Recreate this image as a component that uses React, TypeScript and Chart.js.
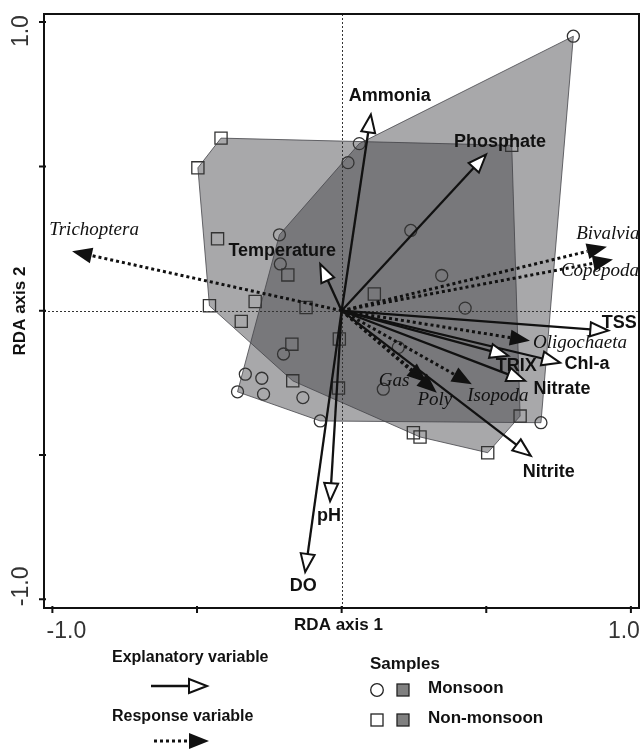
import React, { useEffect, useRef } from 'react';
import { Chart, registerables } from 'chart.js';

Chart.register(...registerables);

// ---- data ----
const monsoonX = [0.801, 0.061, 0.022, -0.215, -0.212, 0.239, 0.346, 0.427, 0.196, 0.144, -0.201, -0.333, -0.276, -0.36, -0.27, -0.134, -0.074, 0.689];
const monsoonY = [0.951, 0.579, 0.513, 0.263, 0.162, 0.278, 0.122, 0.009, -0.127, -0.272, -0.15, -0.22, -0.234, -0.281, -0.289, -0.301, -0.382, -0.388];

const nonMonsoonX = [-0.417, -0.497, -0.429, -0.186, -0.457, -0.299, -0.123, 0.113, -0.347, -0.172, -0.008, -0.169, -0.011, 0.588, 0.617, 0.505, 0.248, 0.271];
const nonMonsoonY = [0.598, 0.495, 0.249, 0.124, 0.017, 0.032, 0.011, 0.058, -0.037, -0.116, -0.098, -0.243, -0.268, 0.573, -0.365, -0.492, -0.423, -0.4375];

const explanatoryNames = ['Ammonia', 'Phosphate', 'Temperature', 'TSS', 'Chl-a', 'TRIX', 'Nitrate', 'Nitrite', 'pH', 'DO'];
const explanatoryX = [0.101, 0.499, -0.074, 0.922, 0.755, 0.576, 0.634, 0.654, -0.04, -0.126];
const explanatoryY = [0.68, 0.541, 0.162, -0.069, -0.18, -0.156, -0.243, -0.503, -0.66, -0.905];

const responseNames = ['Trichoptera', 'Bivalvia', 'Copepoda', 'Oligochaeta', 'Isopoda', 'Gas', 'Poly'];
const responseX = [-0.932, 0.917, 0.938, 0.651, 0.45, 0.295, 0.329];
const responseY = [0.206, 0.222, 0.177, -0.104, -0.255, -0.249, -0.284];

const axisTicks = [-1, -0.5, 0, 0.5, 1];
const axisTickLabels = ['-1.0', '', '', '', '1.0'];
const xTitle = 'RDA axis 1';
const yTitle = 'RDA axis 2';

// ---- layout (pixel offsets of labels from arrow tips) ----
const explanatoryLabelOffset: [number, number][] = [
  [19, -18], [14, -13], [-38, -13], [11, -8], [27, 1], [8, 10], [37, 8], [18, 16], [-1, 15], [-2, 14],
];
const responseLabelOffset: [number, number][] = [
  [22, -21], [1, -13], [-13, 11], [50, 2], [26, 12], [-33, -2], [-2, 7],
];

const X_MIN = -1.029, X_MAX = 1.028, Y_MIN = -1.03, Y_MAX = 1.028;

const BOLD = (s: number) => `bold ${s}px "Liberation Sans", Arial, sans-serif`;
const ITAL = (s: number) => `italic ${s}px "Liberation Serif", "Times New Roman", serif`;

function hull(xs: number[], ys: number[]) {
  const p = xs.map((x, i) => ({ x, y: ys[i] })).sort((a, b) => a.x - b.x || a.y - b.y);
  const cross = (o: any, a: any, b: any) => (a.x - o.x) * (b.y - o.y) - (a.y - o.y) * (b.x - o.x);
  const lower: any[] = [];
  for (const q of p) {
    while (lower.length >= 2 && cross(lower[lower.length - 2], lower[lower.length - 1], q) <= 0) lower.pop();
    lower.push(q);
  }
  const upper: any[] = [];
  for (let i = p.length - 1; i >= 0; i--) {
    const q = p[i];
    while (upper.length >= 2 && cross(upper[upper.length - 2], upper[upper.length - 1], q) <= 0) upper.pop();
    upper.push(q);
  }
  upper.pop();
  lower.pop();
  const h = lower.concat(upper);
  h.push(h[0]);
  return h;
}

function drawArrow(
  ctx: CanvasRenderingContext2D,
  x0: number, y0: number, x1: number, y1: number,
  dotted: boolean,
) {
  const ang = Math.atan2(y1 - y0, x1 - x0);
  const len = dotted ? 20 : 18;
  const half = dotted ? 8 : 7;
  const c = Math.cos(ang), s = Math.sin(ang);
  const bx = x1 - len * c, by = y1 - len * s;
  ctx.save();
  ctx.strokeStyle = '#111';
  ctx.lineWidth = dotted ? 3 : 2.3;
  ctx.lineCap = 'butt';
  if (dotted) ctx.setLineDash([3, 3]);
  ctx.beginPath();
  ctx.moveTo(x0, y0);
  ctx.lineTo(bx, by);
  ctx.stroke();
  ctx.setLineDash([]);
  ctx.beginPath();
  ctx.moveTo(x1, y1);
  ctx.lineTo(bx - half * s, by + half * c);
  ctx.lineTo(bx + half * s, by - half * c);
  ctx.closePath();
  if (dotted) {
    ctx.fillStyle = '#111';
    ctx.fill();
  } else {
    ctx.fillStyle = '#fff';
    ctx.fill();
    ctx.lineWidth = 2;
    ctx.lineJoin = 'miter';
    ctx.stroke();
  }
  ctx.restore();
}

const overlayPlugin = {
  id: 'overlay',
  afterDatasetsDraw(chart: any) {
    const ctx: CanvasRenderingContext2D = chart.ctx;
    const xs = chart.scales.x;
    const ys = chart.scales.y;
    const a = chart.chartArea;
    const px = (v: number) => xs.getPixelForValue(v);
    const py = (v: number) => ys.getPixelForValue(v);
    const ox = px(0), oy = py(0);

    ctx.save();
    ctx.strokeStyle = '#333';
    ctx.lineWidth = 1;
    ctx.setLineDash([2, 2]);
    ctx.beginPath();
    ctx.moveTo(Math.round(ox) + 0.5, a.top);
    ctx.lineTo(Math.round(ox) + 0.5, a.bottom);
    ctx.moveTo(a.left, Math.round(oy) + 0.5);
    ctx.lineTo(a.right, Math.round(oy) + 0.5);
    ctx.stroke();
    ctx.setLineDash([]);

    responseNames.forEach((_, i) => drawArrow(ctx, ox, oy, px(responseX[i]), py(responseY[i]), true));
    explanatoryNames.forEach((_, i) => drawArrow(ctx, ox, oy, px(explanatoryX[i]), py(explanatoryY[i]), false));

    ctx.textAlign = 'center';
    ctx.textBaseline = 'middle';
    ctx.fillStyle = '#111';
    ctx.font = ITAL(19);
    responseNames.forEach((n, i) => {
      const [dx, dy] = responseLabelOffset[i];
      ctx.fillText(n, px(responseX[i]) + dx, py(responseY[i]) + dy);
    });
    ctx.font = BOLD(18);
    explanatoryNames.forEach((n, i) => {
      const [dx, dy] = explanatoryLabelOffset[i];
      ctx.fillText(n, px(explanatoryX[i]) + dx, py(explanatoryY[i]) + dy);
    });

    ctx.strokeStyle = '#111';
    ctx.lineWidth = 2;
    ctx.strokeRect(a.left, a.top, a.right - a.left, a.bottom - a.top);
    ctx.beginPath();
    axisTicks.forEach((t) => {
      const x = px(t);
      ctx.moveTo(x, a.bottom - 2);
      ctx.lineTo(x, a.bottom + 5);
      const y = py(t);
      ctx.moveTo(a.left + 2, y);
      ctx.lineTo(a.left - 5, y);
    });
    ctx.stroke();

    ctx.fillStyle = '#333';
    ctx.font = '23px "Liberation Sans", Arial, sans-serif';
    axisTicks.forEach((t, i) => {
      const lab = axisTickLabels[i];
      if (!lab) return;
      const x = px(t);
      ctx.textAlign = 'center';
      ctx.fillText(lab, x + (t < 0 ? 14 : -7), a.bottom + 24);
      const y = py(t);
      ctx.save();
      ctx.translate(a.left - 22, y + (t > 0 ? 9 : -13));
      ctx.rotate(-Math.PI / 2);
      ctx.fillText(lab, 0, 0);
      ctx.restore();
    });

    ctx.fillStyle = '#111';
    ctx.font = BOLD(17);
    ctx.fillText(xTitle, (a.left + a.right) / 2 - 3, a.bottom + 17);
    ctx.save();
    ctx.translate(20, (a.top + a.bottom) / 2);
    ctx.rotate(-Math.PI / 2);
    ctx.fillText(yTitle, 0, 0);
    ctx.restore();

    // legend
    ctx.textAlign = 'left';
    ctx.font = BOLD(16);
    ctx.fillText('Explanatory variable', 112, 658);
    ctx.fillText('Response variable', 112, 717);
    drawArrow(ctx, 151, 686, 207, 686, false);
    drawArrow(ctx, 154, 741, 209, 741, true);
    ctx.font = BOLD(17);
    ctx.fillText('Samples', 370, 664);
    ctx.fillText('Monsoon', 428, 688);
    ctx.fillText('Non-monsoon', 428, 718);
    ctx.strokeStyle = '#222';
    ctx.lineWidth = 1.3;
    ctx.beginPath();
    ctx.arc(377, 690, 6.3, 0, Math.PI * 2);
    ctx.stroke();
    ctx.strokeRect(371, 714, 12, 12);
    ctx.fillStyle = '#808080';
    ctx.fillRect(397, 684, 12, 12);
    ctx.strokeRect(397, 684, 12, 12);
    ctx.fillRect(397, 714, 12, 12);
    ctx.strokeRect(397, 714, 12, 12);
    ctx.restore();
  },
};

export default function App() {
  const ref = useRef<HTMLCanvasElement | null>(null);
  useEffect(() => {
    if (!ref.current) return;
    const hullFill = 'rgba(61,61,66,0.45)';
    const chart = new Chart(ref.current, {
      type: 'scatter',
      data: {
        datasets: [
          {
            label: 'Monsoon',
            data: monsoonX.map((x, i) => ({ x, y: monsoonY[i] })),
            pointStyle: 'circle',
            pointRadius: 6,
            pointBorderColor: '#333',
            pointBackgroundColor: 'rgba(0,0,0,0)',
            pointBorderWidth: 1.3,
            order: 0,
          },
          {
            label: 'Non-monsoon',
            data: nonMonsoonX.map((x, i) => ({ x, y: nonMonsoonY[i] })),
            pointStyle: 'rect',
            pointRadius: 8.6,
            pointBorderColor: '#333',
            pointBackgroundColor: 'rgba(0,0,0,0)',
            pointBorderWidth: 1.3,
            order: 1,
          },
          {
            label: 'Monsoon hull',
            data: hull(monsoonX, monsoonY),
            showLine: true,
            fill: 'shape',
            backgroundColor: hullFill,
            borderColor: 'rgba(70,70,75,0.8)',
            borderWidth: 1,
            pointRadius: 0,
            tension: 0,
            order: 10,
          } as any,
          {
            label: 'Non-monsoon hull',
            data: hull(nonMonsoonX, nonMonsoonY),
            showLine: true,
            fill: 'shape',
            backgroundColor: hullFill,
            borderColor: 'rgba(70,70,75,0.8)',
            borderWidth: 1,
            pointRadius: 0,
            tension: 0,
            order: 11,
          } as any,
        ],
      },
      options: {
        responsive: false,
        animation: false,
        layout: { autoPadding: false, padding: { left: 44, right: 4, top: 14, bottom: 143 } },
        scales: {
          x: { type: 'linear', min: X_MIN, max: X_MAX, display: false },
          y: { type: 'linear', min: Y_MIN, max: Y_MAX, display: false },
        },
        plugins: { legend: { display: false }, tooltip: { enabled: false } },
      },
      plugins: [overlayPlugin],
    });
    return () => chart.destroy();
  }, []);
  return (
    <div style={{ position: 'fixed', left: 0, top: 0, width: 643, height: 751, background: '#fff' }}>
      <canvas ref={ref} width={643} height={751} style={{ width: 643, height: 751, display: 'block' }} />
    </div>
  );
}
